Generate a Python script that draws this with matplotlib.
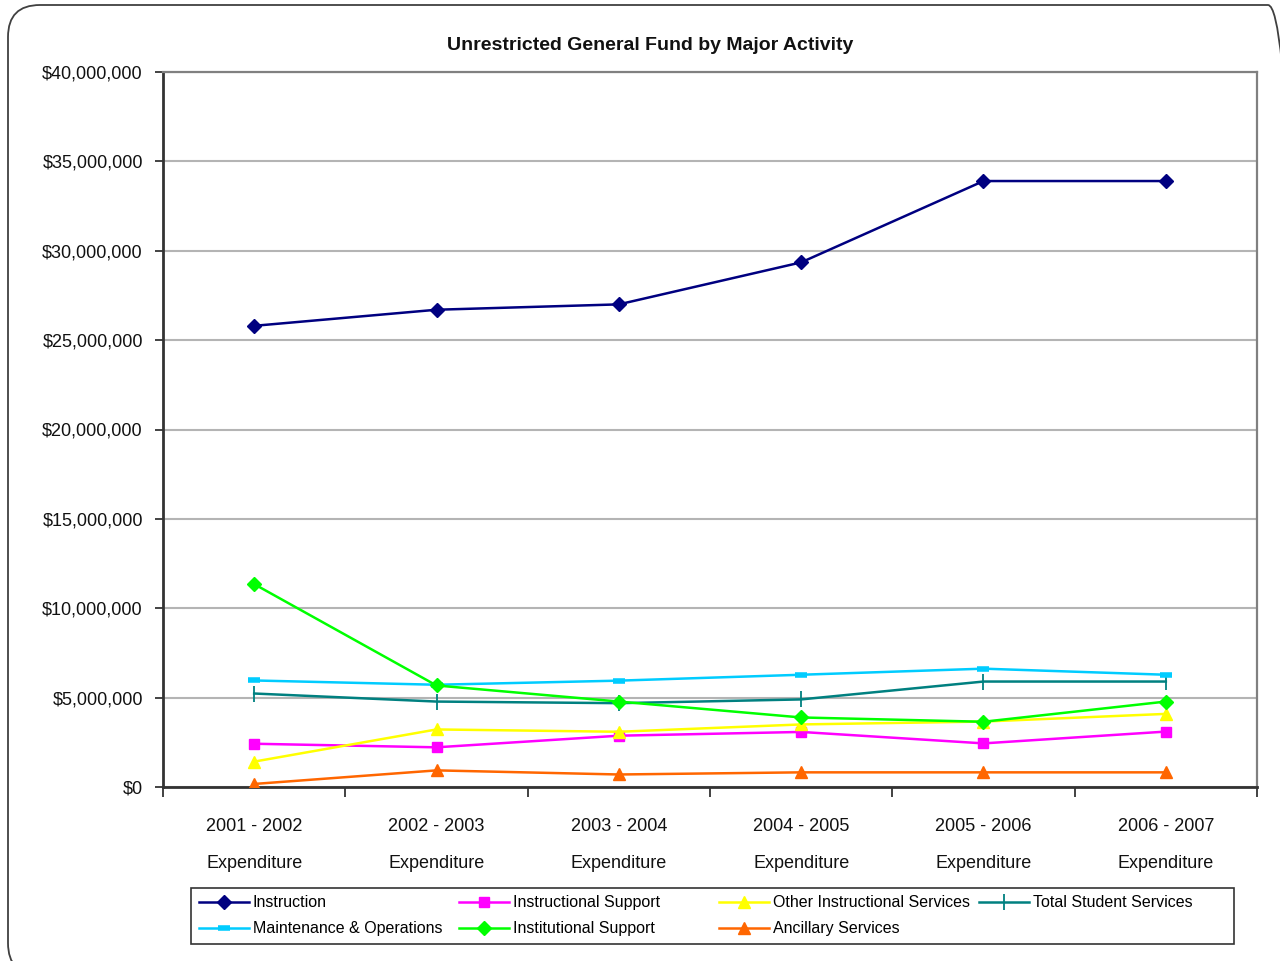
import matplotlib
matplotlib.use("Agg")
import matplotlib.pyplot as plt
from matplotlib import font_manager
from matplotlib.patches import FancyBboxPatch, Rectangle

# ---- data -------------------------------------------------------------
years = ["2001 - 2002", "2002 - 2003", "2003 - 2004",
         "2004 - 2005", "2005 - 2006", "2006 - 2007"]
category_labels = [y + "\nExpenditure" for y in years]

instruction = [25.8e6, 26.7e6, 27.0e6, 29.35e6, 33.9e6, 33.9e6]
instructional_support = [2.42e6, 2.22e6, 2.87e6, 3.08e6, 2.44e6, 3.10e6]
other_instructional = [1.42e6, 3.22e6, 3.09e6, 3.50e6, 3.66e6, 4.09e6]
total_student_services = [5.23e6, 4.78e6, 4.69e6, 4.90e6, 5.90e6, 5.90e6]
maintenance_operations = [5.96e6, 5.72e6, 5.95e6, 6.28e6, 6.62e6, 6.28e6]
institutional_support = [11.35e6, 5.68e6, 4.78e6, 3.89e6, 3.65e6, 4.78e6]
ancillary_services = [0.17e6, 0.93e6, 0.70e6, 0.82e6, 0.82e6, 0.82e6]

series_names = ["Instruction", "Instructional Support",
                "Other Instructional Services", "Total Student Services",
                "Maintenance & Operations", "Institutional Support",
                "Ancillary Services"]
series_values = [instruction, instructional_support, other_instructional,
                 total_student_services, maintenance_operations,
                 institutional_support, ancillary_services]
y_ticks = [0, 5e6, 10e6, 15e6, 20e6, 25e6, 30e6, 35e6, 40e6]

# ---- styles -----------------------------------------------------------
styles = [
    dict(color="#000080", marker="D", markersize=7.5),
    dict(color="#FF00FF", marker="s", markersize=7.5),
    dict(color="#FFFF00", marker="^", markersize=9),
    dict(color="#008080", marker="|", markersize=11, markeredgewidth=1.3),
    dict(color="#00CCFF", marker="_", markersize=9, markeredgewidth=4),
    dict(color="#00FF00", marker="D", markersize=7.5),
    dict(color="#FF6600", marker="^", markersize=9),
]

available = {f.name for f in font_manager.fontManager.ttflist}
narrow = "Liberation Sans Narrow" if "Liberation Sans Narrow" in available else "Liberation Sans"
plt.rcParams["font.family"] = [narrow, "DejaVu Sans"]

W, H = 1280, 961
fig = plt.figure(figsize=(W / 100, H / 100), dpi=100)
fig.patch.set_facecolor("white")

# rounded outer frame
frame = FancyBboxPatch((8 / W, 1 - 975 / H), (1300 - 8) / W, (975 - 5) / H,
                       boxstyle="round,pad=0,rounding_size=0.025",
                       transform=fig.transFigure, facecolor="none",
                       edgecolor="#404040", linewidth=1.3, zorder=0,
                       mutation_aspect=W / H)
fig.patches.append(frame)

ax = fig.add_axes([163 / W, 1 - 787 / H, (1257 - 163) / W, (787 - 72) / H])

x = list(range(len(years)))
handles = []
for name, vals, st in zip(series_names, series_values, styles):
    ln, = ax.plot(x, vals, linewidth=1.8, label=name, zorder=3, **st)
    handles.append(ln)

ax.set_xlim(-0.5, len(years) - 0.5)
ax.set_ylim(0, 40e6)
ax.set_yticks(y_ticks)
ax.set_yticklabels(["${:,.0f}".format(v) for v in y_ticks])
ax.yaxis.grid(True, color="#b4b4b4", linewidth=1.5)
ax.set_axisbelow(True)

ax.set_xticks(x)
ax.set_xticklabels(category_labels, linespacing=2.5)
ax.set_xticks([i - 0.5 for i in range(len(years) + 1)], minor=True)
ax.tick_params(axis="x", which="major", length=0, pad=22.5, labelsize=13,
               labelcolor="#111111")
ax.tick_params(axis="x", which="minor", length=7, width=1.2, direction="out",
               color="#222222")
ax.tick_params(axis="y", length=6, width=1.2, direction="out", pad=8.5,
               labelsize=13, color="#222222", labelcolor="#111111")

for side in ("left", "bottom"):
    ax.spines[side].set_color("#333333")
    ax.spines[side].set_linewidth(2.0)
for side in ("top", "right"):
    ax.spines[side].set_color("#808080")
    ax.spines[side].set_linewidth(1.6)

fig.text(650 / W, 1 - 46 / H, "Unrestricted General Fund by Major Activity",
         ha="center", va="center", fontsize=14, fontweight="bold",
         color="#111111")

# legend: frame plus four evenly placed columns
fig.patches.append(Rectangle((191 / W, 1 - 944 / H), (1234 - 191) / W,
                             (944 - 888) / H, transform=fig.transFigure,
                             facecolor="white", edgecolor="#333333",
                             linewidth=1.2, zorder=1))
columns = [[0, 4], [1, 5], [2, 6], [3]]
col_left = [196, 456, 716, 976]
for cols, left in zip(columns, col_left):
    leg = fig.legend([handles[i] for i in cols], [series_names[i] for i in cols],
                     loc="upper left",
                     bbox_to_anchor=(left / W, 1 - 892 / H),
                     frameon=False, fontsize=11.5, handlelength=3.1,
                     handletextpad=0.25, labelspacing=0.7, borderpad=0.2,
                     borderaxespad=0)
    leg.set_zorder(2)

fig.savefig("out.png", dpi=100, facecolor="white")
